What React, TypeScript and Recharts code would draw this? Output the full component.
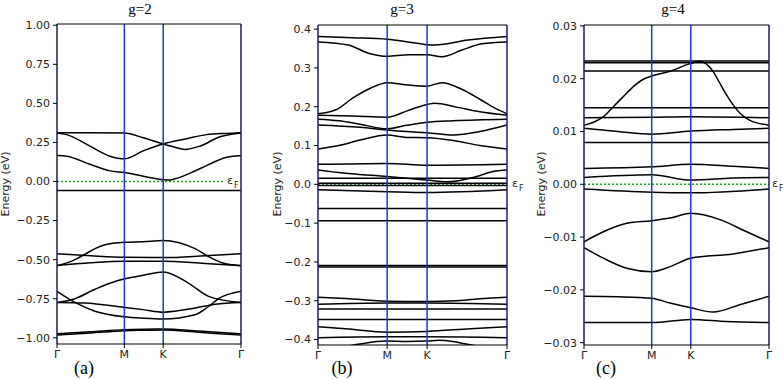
import { LineChart, Line, XAxis, YAxis, ReferenceLine } from 'recharts'

type Pt = [number, number]

// k-path: Γ -> M -> K -> Γ (hexagonal BZ, units of |ΓM|)
const kTicks = [0, 1, 1.577, 2.732]
const kLabels = ['Γ', 'M', 'K', 'Γ']

const g2Ticks = [-1, -0.75, -0.5, -0.25, 0, 0.25, 0.5, 0.75, 1]
const g3Ticks = [-0.4, -0.3, -0.2, -0.1, 0, 0.1, 0.2, 0.3, 0.4]
const g4Ticks = [-0.03, -0.02, -0.01, 0, 0.01, 0.02, 0.03]

const g2Bands: Pt[][] = [
  [[0, 0.312], [0.5, 0.312], [1, 0.31], [1.28, 0.28], [1.577, 0.24], [1.727, 0.222], [1.9, 0.205], [2.12, 0.226], [2.42, 0.286], [2.732, 0.31]],
  [[0, 0.31], [0.144, 0.3], [0.49, 0.226], [0.787, 0.162], [1, 0.145], [1.28, 0.196], [1.577, 0.24], [1.93, 0.274], [2.22, 0.3], [2.52, 0.308], [2.732, 0.312]],
  [[0, 0.167], [0.144, 0.162], [0.49, 0.11], [0.787, 0.068], [1, 0.057], [1.28, 0.034], [1.577, 0.011], [1.65, 0.009], [1.75, 0.017], [2.02, 0.062], [2.22, 0.102], [2.52, 0.155], [2.732, 0.167]],
  [[0, -0.057], [2.732, -0.057]],
  [[0, -0.462], [0.5, -0.475], [1, -0.485], [1.577, -0.487], [2.2, -0.475], [2.732, -0.462]],
  [[0, -0.54], [0.267, -0.5], [0.416, -0.465], [0.564, -0.43], [0.713, -0.405], [1, -0.389], [1.28, -0.385], [1.577, -0.378], [1.8, -0.39], [2.05, -0.43], [2.25, -0.48], [2.45, -0.52], [2.732, -0.54]],
  [[0, -0.538], [0.5, -0.52], [1, -0.51], [1.577, -0.51], [2.2, -0.525], [2.732, -0.538]],
  [[0, -0.703], [0.267, -0.774], [0.564, -0.83], [1, -0.866], [1.28, -0.875], [1.577, -0.88], [2.05, -0.853], [2.25, -0.8], [2.4, -0.75], [2.732, -0.703]],
  [[0, -0.774], [0.416, -0.778], [1, -0.806], [1.28, -0.82], [1.577, -0.836], [2.05, -0.81], [2.35, -0.785], [2.732, -0.774]],
  [[0, -0.774], [0.267, -0.75], [0.564, -0.69], [0.861, -0.64], [1, -0.624], [1.28, -0.6], [1.577, -0.579], [1.95, -0.65], [2.25, -0.735], [2.732, -0.774]],
  [[0, -0.975], [0.5, -0.962], [1, -0.948], [1.3, -0.945], [1.577, -0.944], [2.1, -0.957], [2.732, -0.975]],
  [[0, -0.983], [0.5, -0.97], [1, -0.955], [1.3, -0.952], [1.577, -0.95], [2.1, -0.965], [2.732, -0.983]],
]

const g3Bands: Pt[][] = [
  [[0, 0.381], [0.5, 0.378], [1, 0.374], [1.306, 0.367], [1.577, 0.36], [1.69, 0.359], [2.17, 0.372], [2.732, 0.381]],
  [[0, 0.367], [0.438, 0.359], [0.727, 0.338], [1, 0.33], [1.306, 0.334], [1.577, 0.334], [1.79, 0.329], [2.08, 0.346], [2.37, 0.362], [2.732, 0.367]],
  [[0, 0.182], [0.27, 0.193], [0.5, 0.222], [0.75, 0.247], [1, 0.262], [1.306, 0.256], [1.577, 0.253], [1.79, 0.262], [2.08, 0.245], [2.35, 0.218], [2.55, 0.197], [2.732, 0.182]],
  [[0, 0.178], [0.5, 0.176], [1, 0.173], [1.3, 0.19], [1.577, 0.206], [1.69, 0.209], [2.0, 0.199], [2.34, 0.187], [2.732, 0.178]],
  [[0, 0.168], [0.3, 0.164], [0.607, 0.155], [1, 0.143], [1.28, 0.152], [1.577, 0.16], [1.956, 0.164], [2.732, 0.168]],
  [[0, 0.153], [0.607, 0.147], [1, 0.14], [1.28, 0.136], [1.577, 0.133], [1.956, 0.127], [2.34, 0.136], [2.732, 0.153]],
  [[0, 0.091], [0.3, 0.1], [0.607, 0.114], [1, 0.127], [1.28, 0.121], [1.577, 0.12], [1.956, 0.113], [2.34, 0.1], [2.732, 0.091]],
  [[0, 0.0515], [1, 0.054], [1.577, 0.049], [2.732, 0.0515]],
  [[0, 0.037], [0.366, 0.029], [1, 0.02], [1.577, 0.011], [1.86, 0.0065], [2.29, 0.02], [2.53, 0.033], [2.732, 0.037]],
  [[0, 0.016], [2.732, 0.016]],
  [[0, 0.003], [2.732, 0.003]],
  [[0, -0.003], [2.732, -0.003]],
  [[0, -0.014], [1, -0.019], [1.577, -0.021], [2.732, -0.014]],
  [[0, -0.062], [2.732, -0.062]],
  [[0, -0.094], [2.732, -0.094]],
  [[0, -0.209], [2.732, -0.209]],
  [[0, -0.213], [2.732, -0.213]],
  [[0, -0.291], [0.4, -0.294], [1, -0.301], [1.577, -0.302], [2.0, -0.3], [2.5, -0.293], [2.732, -0.291]],
  [[0, -0.309], [1, -0.306], [1.577, -0.306], [2.732, -0.309]],
  [[0, -0.321], [2.732, -0.321]],
  [[0, -0.348], [2.732, -0.348]],
  [[0, -0.367], [0.4, -0.372], [1, -0.381], [1.577, -0.379], [2.2, -0.372], [2.732, -0.367]],
  [[0, -0.395], [1, -0.393], [1.577, -0.393], [2.732, -0.395]],
  [[0, -0.43], [0.63, -0.411], [0.85, -0.405], [1, -0.404], [1.28, -0.405], [1.577, -0.404], [1.74, -0.402], [1.95, -0.405], [2.125, -0.411], [2.732, -0.43]],
]

const g4Bands: Pt[][] = [
  [[0, 0.02335], [2.732, 0.02335]],
  [[0, 0.023], [2.732, 0.023]],
  [[0, 0.02146], [2.732, 0.02146]],
  [[0, 0.0112], [0.15, 0.0118], [0.286, 0.0128], [0.433, 0.0147], [0.58, 0.0166], [0.728, 0.0185], [0.876, 0.0199], [1, 0.0205], [1.27, 0.0214], [1.577, 0.0229], [1.713, 0.0233], [1.91, 0.0213], [2.008, 0.0191], [2.107, 0.0169], [2.205, 0.015], [2.304, 0.01345], [2.451, 0.0121], [2.732, 0.0112]],
  [[0, 0.01451], [2.732, 0.01451]],
  [[0, 0.0126], [1, 0.0127], [1.577, 0.0128], [2.732, 0.0126]],
  [[0, 0.0106], [0.5, 0.01], [1, 0.0095], [1.577, 0.0101], [2.2, 0.0104], [2.732, 0.0106]],
  [[0, 0.0079], [2.732, 0.0079]],
  [[0, 0.003], [1, 0.0033], [1.577, 0.0038], [2.2, 0.0034], [2.732, 0.003]],
  [[0, 0.0013], [1, 0.0018], [1.577, 0.0008], [2.2, 0.0012], [2.732, 0.0013]],
  [[0, -0.0009], [1, -0.0015], [1.577, -0.0016], [2.732, -0.0009]],
  [[0, -0.0109], [0.286, -0.009], [0.63, -0.0074], [1, -0.0069], [1.27, -0.0064], [1.577, -0.0055], [2.008, -0.0067], [2.403, -0.009], [2.732, -0.0109]],
  [[0, -0.012], [0.286, -0.014], [0.63, -0.0159], [1, -0.01655], [1.27, -0.0156], [1.577, -0.014], [2.2, -0.0132], [2.732, -0.012]],
  [[0, -0.0212], [0.5, -0.0213], [1, -0.0216], [1.27, -0.0225], [1.577, -0.0234], [1.91, -0.0242], [2.3, -0.0228], [2.732, -0.0212]],
  [[0, -0.0262], [1, -0.0262], [1.577, -0.0256], [2.1, -0.026], [2.732, -0.0262]],
]

const SANS = 'DejaVu Sans'
const SERIF = 'Liberation Serif'
const BLUE = '#2233e0'
const EDGE = '#1c1c60'

const fmt = (digits: number) => (v: number) =>
  v < 0 ? '\u2212' + Math.abs(v).toFixed(digits) : v.toFixed(digits)

type PanelProps = {
  left: number
  width: number
  margin: { top: number; right: number; bottom: number; left: number }
  yWidth: number
  domain: [number, number]
  ticks: number[]
  digits: number
  bands: Pt[][]
  fermiEnd: number
}

function BandPanel({ left, width, margin, yWidth, domain, ticks, digits, bands, fermiEnd }: PanelProps) {
  const fermi = [{ k: 0, e: 0 }, { k: fermiEnd, e: 0 }]
  return (
    <div style={{ position: 'absolute', left, top: 0 }}>
      <LineChart width={width} height={379} margin={margin}>
        <XAxis
          type="number" dataKey="k" domain={[0, 2.732]} ticks={kTicks} interval={0}
          allowDataOverflow height={20}
          tickFormatter={(v: number) => kLabels[kTicks.indexOf(v)]}
          tick={{ fontSize: 11, fill: '#222', fontFamily: SANS }}
          tickSize={4} tickMargin={2}
          axisLine={{ stroke: '#000', strokeWidth: 1.2 }} tickLine={{ stroke: '#000' }}
        />
        <YAxis
          type="number" dataKey="e" domain={domain} ticks={ticks} interval={0}
          allowDataOverflow width={yWidth}
          tickFormatter={fmt(digits)}
          tick={{ fontSize: 11, fill: '#222', fontFamily: SANS }}
          tickSize={4} tickMargin={3}
          axisLine={false} tickLine={{ stroke: '#000' }}
        />
        <Line
          data={fermi} dataKey="e" type="linear" dot={false} stroke="#22a022"
          strokeWidth={1.6} strokeDasharray="2 2" isAnimationActive={false}
        />
        {bands.map((b, i) => (
          <Line
            key={i} data={b.map(([k, e]) => ({ k, e }))} dataKey="e" type="monotone"
            dot={false} stroke="#000" strokeWidth={1.5} isAnimationActive={false}
          />
        ))}
        <ReferenceLine x={1} stroke={BLUE} strokeWidth={1.5} />
        <ReferenceLine x={1.577} stroke={BLUE} strokeWidth={1.5} />
        <ReferenceLine x={0} stroke={EDGE} strokeWidth={1.5} />
        <ReferenceLine x={2.732} stroke={EDGE} strokeWidth={1.5} />
        <ReferenceLine y={domain[1]} stroke="#000" strokeWidth={1.2} />
      </LineChart>
    </div>
  )
}

function EpsF({ x, y }: { x: number; y: number }) {
  return (
    <>
      <text x={x} y={y} fontSize={11} fontFamily={SANS} fill="#222">ε</text>
      <text x={x + 7} y={y + 3.5} fontSize={8} fontFamily={SANS} fill="#222">F</text>
    </>
  )
}

function YLabel({ x, y }: { x: number; y: number }) {
  return (
    <text
      x={x} y={y} transform={`rotate(-90 ${x} ${y})`} textAnchor="middle"
      dominantBaseline="central" fontSize={11} fontFamily={SANS} fill="#222"
    >
      Energy (eV)
    </text>
  )
}

export default function App() {
  return (
    <div style={{ position: 'absolute', left: 0, top: 0, width: 783, height: 379, background: '#fff' }}>
      <BandPanel
        left={0} width={260} margin={{ top: 24, right: 19, bottom: 15, left: 7 }} yWidth={50}
        domain={[-1.04, 1.008]} ticks={g2Ticks} digits={2} bands={g2Bands} fermiEnd={2.48}
      />
      <BandPanel
        left={260} width={260} margin={{ top: 25, right: 13, bottom: 14, left: 8 }} yWidth={50}
        domain={[-0.414, 0.4106]} ticks={g3Ticks} digits={1} bands={g3Bands} fermiEnd={2.732}
      />
      <BandPanel
        left={520} width={263} margin={{ top: 25, right: 14, bottom: 14, left: 8 }} yWidth={56}
        domain={[-0.03044, 0.03017]} ticks={g4Ticks} digits={2} bands={g4Bands} fermiEnd={2.732}
      />
      <svg width={783} height={379} style={{ position: 'absolute', left: 0, top: 0, pointerEvents: 'none' }}>
        <text x={140} y={14} textAnchor="middle" fontSize={15} fontFamily={SERIF} fill="#000">g=2</text>
        <text x={402} y={14} textAnchor="middle" fontSize={15} fontFamily={SERIF} fill="#000">g=3</text>
        <text x={673} y={14} textAnchor="middle" fontSize={15} fontFamily={SERIF} fill="#000">g=4</text>
        <text x={84} y={374} textAnchor="middle" fontSize={18} fontFamily={SERIF} fill="#000">(a)</text>
        <text x={342} y={374} textAnchor="middle" fontSize={18} fontFamily={SERIF} fill="#000">(b)</text>
        <text x={606} y={374} textAnchor="middle" fontSize={18} fontFamily={SERIF} fill="#000">(c)</text>
        <YLabel x={5} y={184} />
        <YLabel x={277} y={184} />
        <YLabel x={541} y={184} />
        <EpsF x={227} y={184} />
        <EpsF x={512} y={187} />
        <EpsF x={772} y={187} />
      </svg>
    </div>
  )
}
